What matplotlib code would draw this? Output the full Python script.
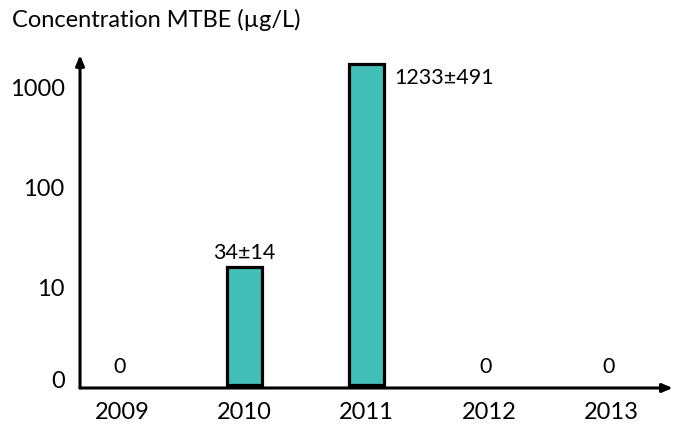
import numpy as np
import matplotlib.pyplot as plt
import matplotlib.transforms as mtransforms

plt.rcParams['font.family'] = ['Lato', 'DejaVu Sans']

years = ['2009', '2010', '2011', '2012', '2013']
means = [0, 34, 1233, 0, 0]
sds = [0, 14, 491, 0, 0]
# bar heights as drawn in the figure (log axis)
bar_heights = [0, 16, 1730, 0, 0]

ytick_vals = [1, 10, 100, 1000]
ytick_text = ['0', '10', '100', '1000']

fig = plt.figure(figsize=(6.81, 4.30), dpi=100)
ax = fig.add_axes([0.1175, 0.0977, 0.988 - 0.1175, 0.872 - 0.0977])

x = np.arange(len(years))
bottom = 1.07
for xi, h in zip(x, bar_heights):
    if h > 0:
        ax.bar(xi, h - bottom, bottom=bottom, width=0.285, color='#43BFB7',
               edgecolor='black', linewidth=2.3, zorder=3)

ax.set_yscale('log')
ax.set_ylim(bottom, 2123)
ax.set_xlim(-0.343, 4.505)

for s in ax.spines.values():
    s.set_visible(False)

# axis arrows
ax.annotate('', xy=(0, 1.0), xycoords='axes fraction', xytext=(0, 0),
            arrowprops=dict(arrowstyle='-|>,head_length=0.6,head_width=0.25',
                            lw=2.2, color='black', shrinkA=0, shrinkB=0))
ax.annotate('', xy=(1.0, 0), xycoords='axes fraction', xytext=(0, 0),
            arrowprops=dict(arrowstyle='-|>,head_length=0.6,head_width=0.25',
                            lw=2.2, color='black', shrinkA=0, shrinkB=0))

ax.set_xticks(x)
ax.set_xticklabels(years, fontsize=17)
ax.set_yticks(ytick_vals)
ax.set_yticklabels(ytick_text, fontsize=17)
ax.minorticks_off()
ax.tick_params(axis='both', length=0)
ax.tick_params(axis='x', pad=10)
ax.tick_params(axis='y', pad=11)
# lift the "0" label slightly above the baseline
lab0 = ax.get_yticklabels()[0]
lab0.set_transform(lab0.get_transform() + mtransforms.ScaledTranslation(0, 6 / 72, fig.dpi_scale_trans))

for xi, m, sd, h in zip(x, means, sds, bar_heights):
    if m == 0:
        ax.annotate('0', xy=(xi, bottom), xytext=(-2, 6), textcoords='offset points',
                    ha='center', va='bottom', fontsize=15.5)
    elif m < 100:
        ax.annotate(f'{m}±{sd}', xy=(xi, h), xytext=(0, 3), textcoords='offset points',
                    ha='center', va='bottom', fontsize=15.5)
    else:
        ax.annotate(f'{m}±{sd}', xy=(xi + 0.14, h), xytext=(8, -3), textcoords='offset points',
                    ha='left', va='top', fontsize=15.5)

fig.text(0.018, 0.953, 'Concentration MTBE (µg/L)', fontsize=17, ha='left', va='center')

fig.savefig('out.png', dpi=100)
